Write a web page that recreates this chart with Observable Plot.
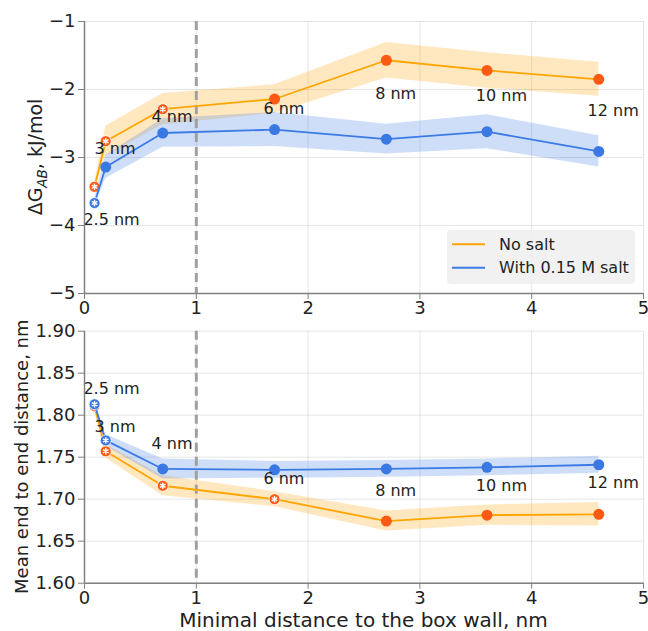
<!DOCTYPE html>
<html><head><meta charset="utf-8">
<script src="https://cdn.jsdelivr.net/npm/d3@7"></script>
<script src="https://cdn.jsdelivr.net/npm/@observablehq/plot@0.6"></script>
<style>
body{margin:0;background:#fff;font-family:"DejaVu Sans",sans-serif;}
#chart{width:648px;height:631px;position:relative;overflow:hidden}
#chart svg{display:block;overflow:visible !important}
</style></head><body><div id="chart"></div>
<script>
// ---- data ----
const boxSizes = ["2.5 nm","3 nm","4 nm","6 nm","8 nm","10 nm","12 nm"];
const wallDist = [0.09, 0.19, 0.70, 1.70, 2.70, 3.60, 4.60];

const dgNoSalt    = [-3.43, -2.76, -2.29, -2.14, -1.57, -1.72, -1.85];
const dgNoSaltErr = [0.05, 0.22, 0.23, 0.21, 0.26, 0.26, 0.25];
const dgNoSaltSig = [true, true, true, false, false, false, false];
const dgSalt      = [-3.67, -3.14, -2.64, -2.59, -2.73, -2.62, -2.91];
const dgSaltErr   = [0.05, 0.17, 0.21, 0.25, 0.22, 0.25, 0.23];
const dgSaltSig   = [true, false, false, false, false, false, false];
const dgLabelY    = [-3.91, -2.88, -2.40, -2.29, -2.07, -2.10, -2.31];

const eeNoSalt    = [1.811, 1.757, 1.716, 1.700, 1.674, 1.681, 1.682];
const eeNoSaltErr = [0.003, 0.008, 0.012, 0.009, 0.012, 0.012, 0.014];
const eeNoSaltSig = [true, true, true, true, false, false, false];
const eeSalt      = [1.813, 1.770, 1.736, 1.735, 1.736, 1.738, 1.741];
const eeSaltErr   = [0.003, 0.007, 0.012, 0.010, 0.010, 0.010, 0.010];
const eeSaltSig   = [true, true, false, false, false, false, false];
const eeLabelY    = [1.831, 1.786, 1.766, 1.724, 1.710, 1.716, 1.719];

const xTicks = [0, 1, 2, 3, 4, 5];
const dgTicks = [-5, -4, -3, -2, -1];
const eeTicks = [1.60, 1.65, 1.70, 1.75, 1.80, 1.85, 1.90];
const seriesNames = ["No salt", "With 0.15 M salt"];

const ORANGE_LINE = "#ffa500", ORANGE_DOT = "#ff5a14";
const BLUE_LINE = "#3c7be6", BLUE_DOT = "#3a78e3";
const AXIS = "#808080", TXT = "#222";
const FS_TICK = 18, FS_ANN = 16;

function rows(vals, errs, sig) {
  return wallDist.map((x, i) => ({x, y: vals[i], lo: vals[i] - errs[i], hi: vals[i] + errs[i], sig: sig[i]}));
}

function panel(o) {
  const orange = rows(o.noSalt, o.noSaltErr, o.noSaltSig);
  const blue = rows(o.salt, o.saltErr, o.saltSig);
  const labels = wallDist.map((x, i) => ({x, y: o.labelY[i], text: boxSizes[i]}));
  return Plot.plot({
    width: 648, height: o.height,
    marginLeft: 84, marginRight: 5, marginTop: o.marginTop, marginBottom: o.marginBottom,
    style: {fontFamily: "DejaVu Sans, sans-serif", fontSize: FS_TICK + "px", background: "#fff", color: TXT},
    x: {domain: [0, 5]},
    y: {domain: o.yDomain},
    marks: [
      Plot.gridX(xTicks, {stroke: "#000", strokeOpacity: 0.1}),
      Plot.gridY(o.yTicks, {stroke: "#000", strokeOpacity: 0.1}),
      Plot.areaY(orange, {x: "x", y1: "lo", y2: "hi", fill: ORANGE_LINE, fillOpacity: 0.25}),
      Plot.areaY(blue, {x: "x", y1: "lo", y2: "hi", fill: BLUE_LINE, fillOpacity: 0.25}),
      Plot.ruleX([1], {stroke: "#a0a0a0", strokeWidth: 3, strokeDasharray: "9,5"}),
      Plot.line(orange, {x: "x", y: "y", stroke: ORANGE_LINE, strokeWidth: 1.8}),
      Plot.dot(orange, {x: "x", y: "y", r: 5.5, fill: ORANGE_DOT}),
      Plot.dot(orange.filter(d => d.sig), {x: "x", y: "y", r: 5.5, stroke: "white", strokeWidth: 0.8}),
      Plot.dot(orange.filter(d => d.sig), {x: "x", y: "y", symbol: "asterisk", r: 3, stroke: "white", strokeWidth: 1.4}),
      Plot.line(blue, {x: "x", y: "y", stroke: BLUE_LINE, strokeWidth: 1.8}),
      Plot.dot(blue, {x: "x", y: "y", r: 5.5, fill: BLUE_DOT}),
      Plot.dot(blue.filter(d => d.sig), {x: "x", y: "y", r: 5.5, stroke: "white", strokeWidth: 0.8}),
      Plot.dot(blue.filter(d => d.sig), {x: "x", y: "y", symbol: "asterisk", r: 3, stroke: "white", strokeWidth: 1.4}),
      Plot.text(labels, {x: d => d.x - 0.1, y: "y", text: "text", textAnchor: "start", lineAnchor: "middle", fontSize: FS_ANN, fill: TXT}),
      Plot.ruleX([0], {stroke: AXIS, strokeWidth: 1.5}),
      Plot.ruleY([o.yDomain[0]], {stroke: AXIS, strokeWidth: 1.5}),
      Plot.axisX({ticks: xTicks, tickFormat: d3.format("d"), tickSize: 6, tickPadding: 2, stroke: AXIS, fill: TXT, label: null}),
      Plot.axisY({ticks: o.yTicks, tickFormat: o.yFormat, tickSize: 6, tickPadding: 3, stroke: AXIS, fill: TXT, label: null})
    ]
  });
}

const topChart = panel({
  height: 318, marginTop: 21, marginBottom: 25,
  yDomain: [-5, -1], yTicks: dgTicks, yFormat: d3.format("d"),
  noSalt: dgNoSalt, noSaltErr: dgNoSaltErr, noSaltSig: dgNoSaltSig,
  salt: dgSalt, saltErr: dgSaltErr, saltSig: dgSaltSig, labelY: dgLabelY
});
const bottomChart = panel({
  height: 313, marginTop: 12.7, marginBottom: 48.3,
  yDomain: [1.6, 1.9], yTicks: eeTicks, yFormat: d3.format(".2f"),
  noSalt: eeNoSalt, noSaltErr: eeNoSaltErr, noSaltSig: eeNoSaltSig,
  salt: eeSalt, saltErr: eeSaltErr, saltSig: eeSaltSig, labelY: eeLabelY
});

// y label with subscript (top)
const ts = d3.select(topChart);
const yl = ts.append("text").attr("transform", "translate(42,157) rotate(-90)")
  .attr("text-anchor", "middle").attr("fill", TXT).style("font-size", "19px");
yl.append("tspan").text("ΔG");
yl.append("tspan").attr("dy", 4.5).attr("font-style", "italic").style("font-size", "13.5px").text("AB");
yl.append("tspan").attr("dy", -4.5).text(", kJ/mol");

// legend (inside top panel)
const lg = ts.append("g").attr("text-anchor", "start");
lg.append("rect").attr("x", 447).attr("y", 230).attr("width", 188).attr("height", 54).attr("rx", 4)
  .attr("fill", "#f0f0f0").attr("fill-opacity", 0.9);
[ORANGE_LINE, BLUE_LINE].forEach((c, i) => {
  const y = 244.3 + i * 23.4;
  lg.append("line").attr("x1", 452).attr("x2", 485).attr("y1", y).attr("y2", y).attr("stroke", c).attr("stroke-width", 2);
  lg.append("text").attr("x", 499).attr("y", y).attr("dy", "0.35em").attr("text-anchor", "start")
    .attr("fill", TXT).style("font-size", "16px").text(seriesNames[i]);
});

// labels (bottom)
const bs = d3.select(bottomChart);
bs.append("text").attr("transform", "translate(28,138.7) rotate(-90)")
  .attr("text-anchor", "middle").attr("fill", TXT).style("font-size", "18px").text("Mean end to end distance, nm");
bs.append("text").attr("x", 363.5).attr("y", 302).attr("dy", "0.35em")
  .attr("text-anchor", "middle").attr("fill", TXT).style("font-size", "20px").text("Minimal distance to the box wall, nm");

document.getElementById("chart").append(topChart, bottomChart);
</script></body></html>
